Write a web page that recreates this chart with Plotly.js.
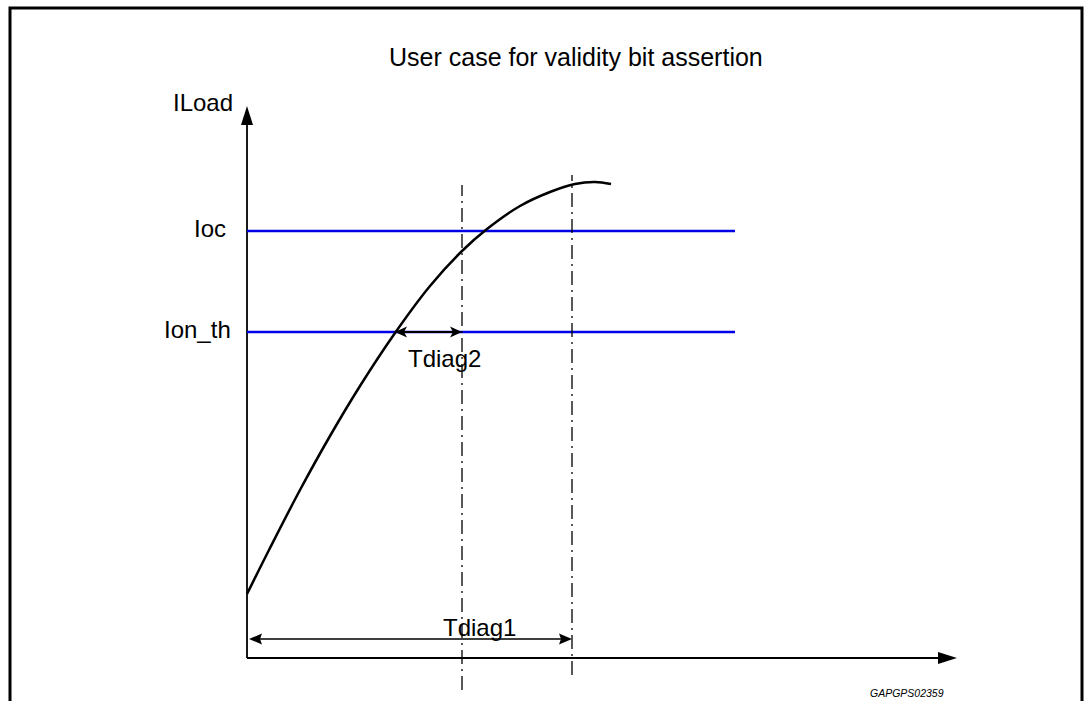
<!DOCTYPE html>
<html><head><meta charset="utf-8">
<script src="https://cdn.plot.ly/plotly-3.0.1.min.js"></script>
<style>html,body{margin:0;padding:0;background:#fff;}#chart{width:1086px;height:701px;}</style>
</head><body><div id="chart"></div>
<script>
// Load current curve (time units, current units; origin at axes corner)
const curveT = [0, 23, 53, 83, 113, 148, 183, 215, 240, 273, 303, 328, 348, 364];
const curveI = [64, 110, 168, 222, 272, 325, 372, 407, 429, 452, 466, 474, 476, 474];
// Threshold levels
const levelNames = ['Ioc', 'Ion_th'];
const levelValues = [427, 326];
const levelEnd = 488;
// Diagnostic time markers
const markerNames = ['Tdiag2', 'Tdiag1'];
const markerTimes = [215, 325];
const markerTop = [473, 483];
const markerBottom = [-32, -17];
const tdiag2Start = 148;
const tdiag1Level = 19;
const tdiag1Start = 2;
// Axes extents
const xAxisEnd = 710;
const yAxisEnd = 552;
const titleText = 'User case for validity bit assertion';
const yLabel = 'ILoad';
const figId = 'GAPGPS02359';

const FONT = 'Liberation Sans, Arial, sans-serif';
const traces = [];

function head(tipX, tipY, dx, dy, len, wid, notch) {
  const bx = tipX - dx * len, by = tipY - dy * len;
  const px = -dy * wid / 2, py = dx * wid / 2;
  const n = notch || 0;
  const nx = bx + dx * n, ny = by + dy * n;
  return {x: [tipX, bx + px, nx, bx - px, tipX], y: [tipY, by + py, ny, by - py, tipY],
    mode: 'lines', fill: 'toself', fillcolor: '#000', line: {width: 0, color: '#000'},
    hoverinfo: 'skip', showlegend: false};
}
function line(xs, ys, color, width, dash) {
  return {x: xs, y: ys, mode: 'lines', line: {color: color, width: width, dash: dash || 'solid'},
    hoverinfo: 'skip', showlegend: false};
}

// axes
traces.push(line([0, 0], [0, yAxisEnd - 18], '#000', 1.8));
traces.push(head(0, yAxisEnd, 0, 1, 19, 12));
traces.push(line([0, xAxisEnd - 18], [0, 0], '#000', 1.8));
traces.push(head(xAxisEnd, 0, 1, 0, 19, 12));

// threshold lines
levelValues.forEach(v => traces.push(line([0, levelEnd], [v, v], '#0000e6', 2.5)));

// dash-dot markers
markerTimes.forEach((t, i) => traces.push(line([t, t], [markerBottom[i], markerTop[i]], '#000', 1.3, '14px,5px,2px,5px')));

// load curve
traces.push({x: curveT, y: curveI, mode: 'lines', line: {color: '#000', width: 2.5, shape: 'spline', smoothing: 1},
  hoverinfo: 'skip', showlegend: false});

// Tdiag2 arrow
traces.push(line([tdiag2Start + 8, markerTimes[0] - 8], [levelValues[1], levelValues[1]], '#000', 2.2));
traces.push(head(tdiag2Start, levelValues[1], -1, 0, 12, 11, 3));
traces.push(head(markerTimes[0], levelValues[1], 1, 0, 12, 11, 3));
// Tdiag1 arrow
traces.push(line([tdiag1Start + 10, markerTimes[1] - 10], [tdiag1Level, tdiag1Level], '#000', 1.6));
traces.push(head(tdiag1Start, tdiag1Level, -1, 0, 13, 11, 2));
traces.push(head(markerTimes[1], tdiag1Level, 1, 0, 13, 11, 2));

const fs = 24;
const annotations = [
  {x: 329, y: 601, text: titleText, xanchor: 'center', yanchor: 'middle', font: {size: 25}},
  {x: -12, y: 556, text: yLabel, xanchor: 'right', yanchor: 'middle', font: {size: fs}},
  {x: -19, y: levelValues[0] + 3, text: levelNames[0], xanchor: 'right', yanchor: 'middle', font: {size: fs}},
  {x: -14, y: levelValues[1] + 3, text: levelNames[1], xanchor: 'right', yanchor: 'middle', font: {size: fs}},
  {x: 159, y: 300, text: markerNames[0], xanchor: 'left', yanchor: 'middle', font: {size: fs}},
  {x: 194, y: 31, text: markerNames[1], xanchor: 'left', yanchor: 'middle', font: {size: fs}},
  {x: 660, y: -35, text: '<i>' + figId + '</i>', xanchor: 'center', yanchor: 'middle', font: {size: 10.5}}
].map(a => Object.assign({xref: 'x', yref: 'y', showarrow: false}, a, {font: Object.assign({family: FONT, color: '#000'}, a.font)}));

const layout = {
  width: 1086, height: 701, autosize: false,
  margin: {l: 0, r: 0, t: 0, b: 0, pad: 0},
  paper_bgcolor: '#fff', plot_bgcolor: '#fff',
  xaxis: {range: [-247, 839], visible: false, fixedrange: true},
  yaxis: {range: [-43, 658], visible: false, fixedrange: true},
  showlegend: false,
  annotations: annotations,
  shapes: [{type: 'rect', xref: 'paper', yref: 'paper', x0: 10 / 1086, x1: 1082 / 1086, y0: -0.2, y1: 1 - 8 / 701,
    line: {color: '#000', width: 3}, layer: 'above'}]
};
Plotly.newPlot('chart', traces, layout, {staticPlot: true, displayModeBar: false});
</script></body></html>
